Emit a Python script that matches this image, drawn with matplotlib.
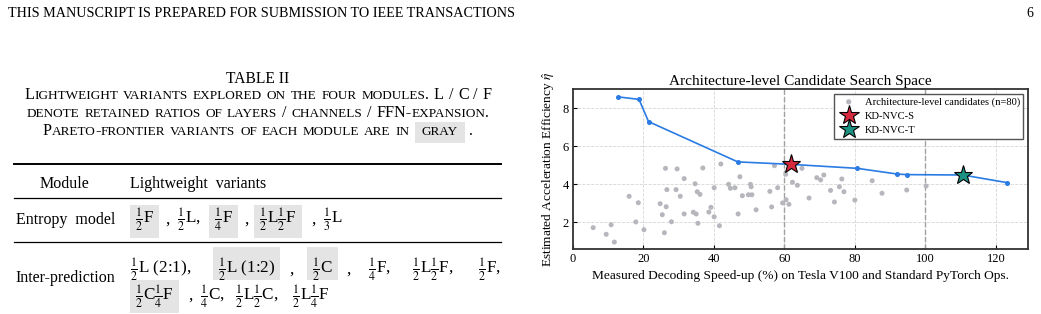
import matplotlib.pyplot as plt
from matplotlib.patches import Rectangle
from matplotlib.transforms import IdentityTransform

plt.rcParams['font.family'] = ['Liberation Serif', 'DejaVu Serif']
plt.rcParams['mathtext.fontset'] = 'stix'

# ---- chart data ----
cand_x = [5.8, 9.5, 10.9, 11.8, 16.0, 17.9, 18.6, 20.2, 24.8, 25.4, 26.0, 26.3, 26.5, 26.7,
          28.0, 29.3, 29.6, 30.5, 31.6, 31.6, 34.2, 34.7, 35.0, 35.3, 35.5, 36.1, 36.9, 38.6,
          39.2, 40.1, 40.1, 41.6, 42.0, 44.2, 44.7, 46.0, 46.9, 47.4, 48.1, 49.8, 50.4, 50.6,
          50.8, 52.0, 55.9, 56.4, 57.2, 58.1, 59.5, 60.4, 60.5, 61.3, 62.3, 63.7, 65.0, 67.0,
          69.2, 70.3, 71.2, 73.1, 74.2, 75.6, 76.3, 76.9, 80.0, 84.9, 87.7, 94.7, 100.2]
cand_y = [1.72, 1.37, 1.87, 0.96, 3.37, 2.02, 3.03, 1.61, 2.98, 2.40, 1.45, 4.84, 2.82, 3.72,
          2.03, 3.72, 4.81, 3.37, 4.30, 2.44, 2.53, 4.03, 2.44, 3.61, 1.95, 3.47, 4.86, 2.54,
          2.79, 3.82, 2.29, 1.82, 5.07, 4.00, 3.79, 3.82, 2.44, 4.40, 3.40, 3.45, 4.00, 3.87,
          3.45, 2.66, 3.63, 2.81, 4.98, 3.82, 3.02, 4.53, 3.19, 2.95, 4.11, 3.95, 4.84, 3.28,
          4.35, 4.23, 4.49, 3.68, 3.07, 3.87, 4.28, 3.61, 3.17, 4.19, 3.53, 3.70, 3.91]

front_x = [12.9, 18.8, 21.5, 46.8, 61.9, 80.7, 92.0, 94.7, 110.6, 123.1]
front_y = [8.60, 8.47, 7.30, 5.18, 5.05, 4.84, 4.54, 4.51, 4.49, 4.09]

kd_s = (61.9, 5.05)
kd_t = (110.6, 4.49)
ref_lines = [60, 100]

# ---- table text ----
caption = [
    "Lightweight variants explored on the four modules. L / C / F",
    "denote retained ratios of layers / channels / FFN-expansion.",
    "Pareto-frontier variants of each module are in [gray] .",
]
entropy_variants = [r"$\frac{1}{2}$F", ",", r"$\frac{1}{2}$L,", r"$\frac{1}{4}$F", ",",
                    r"$\frac{1}{2}$L$\frac{1}{2}$F", ",", r"$\frac{1}{3}$L"]
entropy_gray = [True, False, False, True, False, True, False, False]
inter_line1 = [r"$\frac{1}{2}$L (2:1),", r"$\frac{1}{2}$L (1:2)", ",", r"$\frac{1}{2}$C", ",",
               r"$\frac{1}{4}$F,", r"$\frac{1}{2}$L$\frac{1}{2}$F,", r"$\frac{1}{2}$F,"]
inter_gray1 = [False, True, False, True, False, False, False, False]
inter_line2 = [r"$\frac{1}{2}$C$\frac{1}{4}$F", ",", r"$\frac{1}{4}$C,",
               r"$\frac{1}{2}$L$\frac{1}{2}$C,", r"$\frac{1}{2}$L$\frac{1}{4}$F"]
inter_gray2 = [True, False, False, False, False]

W, H = 1041, 314
fig = plt.figure(figsize=(W / 100, H / 100), dpi=100)
renderer = fig.canvas.get_renderer()
ID = IdentityTransform()
GRAYBOX = '#e4e4e4'


def put(x, y, s, size, **kw):
    # x, y in image pixels, y measured from the top
    return fig.text(x, H - y, s, fontsize=size, transform=ID, va='baseline', **kw)


def wid(t):
    return t.get_window_extent(renderer).width


def box(x0, x1, top, bot):
    fig.add_artist(Rectangle((x0, H - bot), x1 - x0, bot - top, transform=ID,
                             facecolor=GRAYBOX, edgecolor='none', zorder=0))


def small_caps(cx, y, line, big=11.6, small=9.5):
    arts, boxes = [], []
    x = 0.0
    sp = big * 100 / 72 * 0.3
    for w in line.split(' '):
        boxed = w.startswith('[')
        w = w.strip('[]')
        start = x
        if boxed:
            x += 7
        runs = []
        for ch in w:
            b = not ch.islower()
            if runs and runs[-1][1] == b:
                runs[-1][0] += ch
            else:
                runs.append([ch, b])
        for run, b in runs:
            t = put(x, y, run.upper(), big if b else small)
            x += wid(t)
            arts.append(t)
        if boxed:
            x += 7
            boxes.append((start, x))
        x += sp
    shift = cx - (x - sp) / 2
    for t in arts:
        t.set_x(t.get_position()[0] + shift)
    return [(a + shift, b + shift) for a, b in boxes]


def row(xs, y, items, gray, top, bot, size=12.3):
    for x, s, g in zip(xs, items, gray):
        t = put(x, y, s, size)
        if g:
            box(x - 5, x + wid(t) + 5, top, bot)


# page header
put(8, 17, "THIS MANUSCRIPT IS PREPARED FOR SUBMISSION TO IEEE TRANSACTIONS", 10.2)
put(1026, 17, "6", 10)

# table caption
put(258, 82.7, "TABLE II", 11.2, ha='center')
small_caps(258, 99.3, caption[0])
small_caps(258, 116.7, caption[1])
for a, b in small_caps(258, 135, caption[2]):
    box(a, b, 122, 142.7)

# rules
fig.add_artist(plt.Line2D([14, 501], [H - 164.3] * 2, transform=ID, color='black', lw=1.4))
fig.add_artist(plt.Line2D([14, 501], [H - 198.3] * 2, transform=ID, color='black', lw=0.9))
fig.add_artist(plt.Line2D([14, 501], [H - 241.7] * 2, transform=ID, color='black', lw=0.9))

put(40, 188, "Module", 11.5)
put(130, 188, "Lightweight  variants", 11.5)
put(16, 223.5, "Entropy  model", 11.5)
put(15, 281.5, "Inter-prediction", 11.5)

row([135, 165, 177, 214, 244, 259, 311, 323], 223.5, entropy_variants, entropy_gray, 205, 237.7)
row([130, 218, 289, 312, 346, 368, 412, 478], 273.5, inter_line1, inter_gray1, 247.3, 280)
row([135, 188, 200, 235, 292], 300, inter_line2, inter_gray2, 280, 312.7)

# ---- chart ----
ax = fig.add_axes([572.7 / W, 1 - 249.3 / H, 455 / W, 160 / H])
ax.scatter(cand_x, cand_y, s=13, color='#b6b6bd', edgecolors='none', zorder=2,
           label='Architecture-level candidates (n=80)')
for v in ref_lines:
    ax.axvline(v, color='#a0a0a0', ls='--', lw=1.0, zorder=1)
ax.plot(front_x, front_y, '-o', color='#2a7be4', lw=1.2, ms=2.6, zorder=3)
ax.plot([kd_s[0]], [kd_s[1]], ls='none', marker='*', ms=14, mfc='#d62a3e', mec='black',
        mew=0.8, zorder=4, label='KD-NVC-S')
ax.plot([kd_t[0]], [kd_t[1]], ls='none', marker='*', ms=14, mfc='#1b9182', mec='black',
        mew=0.8, zorder=4, label='KD-NVC-T')

ax.set_xlim(0, 129)
ax.set_ylim(0.58, 9.0)
ax.set_xticks(range(0, 121, 20))
ax.set_yticks([2, 4, 6, 8])
ax.grid(True, ls='--', lw=0.6, color='#d6d6d6', zorder=0)
ax.set_axisbelow(True)
ax.tick_params(direction='in', length=3, labelsize=9, pad=3)
for sp in ax.spines.values():
    sp.set_linewidth(1.3)
    sp.set_color('#333333')

ax.set_title('Architecture-level Candidate Search Space', fontsize=11, pad=3)
ax.set_xlabel('Measured Decoding Speed-up (%) on Tesla V100 and Standard PyTorch Ops.',
              fontsize=9.6, labelpad=3)
ax.set_ylabel(r'Estimated Acceleration Efficiency $\hat{\eta}$', fontsize=9.6, labelpad=4)
ax.legend(loc='upper right', fontsize=7.6, frameon=True, fancybox=False, edgecolor='#555555',
          framealpha=1, borderaxespad=0.4, handletextpad=0.5, labelspacing=0.45,
          borderpad=0.35, markerscale=1.05)

fig.savefig('out.png', dpi=100)
